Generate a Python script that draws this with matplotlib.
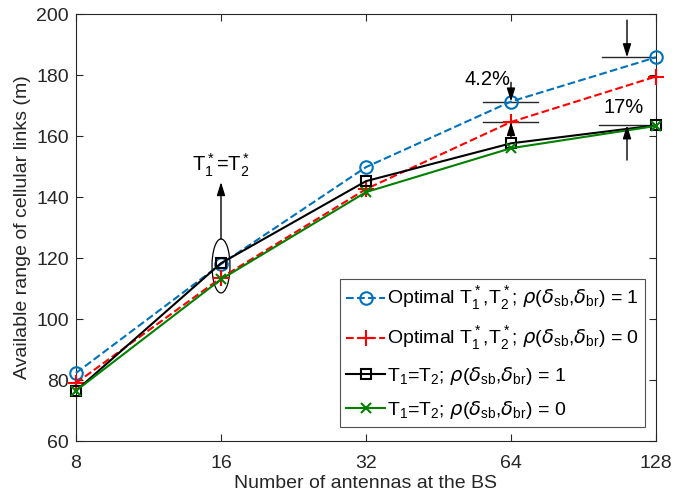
import numpy as np
import matplotlib
matplotlib.use("Agg")
import matplotlib.pyplot as plt
from matplotlib.patches import Ellipse

plt.rcParams['font.family'] = ['Liberation Sans', 'DejaVu Sans']
plt.rcParams['mathtext.fontset'] = 'custom'
plt.rcParams['mathtext.rm'] = 'Liberation Sans'
plt.rcParams['mathtext.it'] = 'DejaVu Sans:italic'
plt.rcParams['mathtext.bf'] = 'Liberation Sans:bold'

antennas = [8, 16, 32, 64, 128]
opt_rho1 = [82.3, 118.0, 149.8, 171.3, 185.8]
opt_rho0 = [79.0, 113.5, 142.6, 164.6, 179.5]
eq_rho1 = [76.5, 118.3, 145.2, 157.6, 163.5]
eq_rho0 = [76.5, 113.0, 141.6, 156.0, 163.3]
yticks = [60, 80, 100, 120, 140, 160, 180, 200]

labels = [
    r'Optimal T$_1^*$,T$_2^*$; $\rho$($\delta_{\mathrm{sb}}$,$\delta_{\mathrm{br}}$) = 1',
    r'Optimal T$_1^*$,T$_2^*$; $\rho$($\delta_{\mathrm{sb}}$,$\delta_{\mathrm{br}}$) = 0',
    r'T$_1$=T$_2$; $\rho$($\delta_{\mathrm{sb}}$,$\delta_{\mathrm{br}}$) = 1',
    r'T$_1$=T$_2$; $\rho$($\delta_{\mathrm{sb}}$,$\delta_{\mathrm{br}}$) = 0',
]

x = np.log2(antennas)

fig = plt.figure(figsize=(6.75, 4.97), dpi=100)
ax = fig.add_axes([76/675, 1-441/497, 580/675, 427/497])

blue = '#0072BD'
ax.plot(x, opt_rho1, '--', color=blue, lw=1.5, marker='o', ms=9, mfc='none', mew=1.5, label=labels[0], clip_on=False, zorder=3)
ax.plot(x, opt_rho0, '--', color='red', lw=1.5, marker='+', ms=11, mew=1.5, label=labels[1], clip_on=False, zorder=3)
ax.plot(x, eq_rho1, '-', color='black', lw=1.5, marker='s', ms=7, mfc='none', mew=1.5, label=labels[2], clip_on=False, zorder=3)
ax.plot(x, eq_rho0, '-', color='#008000', lw=1.5, marker='x', ms=7, mew=1.5, label=labels[3], clip_on=False, zorder=3)

ax.set_xlim(x[0], x[-1])
ax.set_ylim(60, 200)
ax.set_xticks(x)
ax.set_xticklabels([str(a) for a in antennas])
ax.set_yticks(yticks)
for s in ax.spines.values():
    s.set_color('#262626')
    s.set_linewidth(0.8)
ax.tick_params(direction='in', length=5, width=0.8, colors='#262626', labelsize=14,
               top=True, right=True, labeltop=False, labelright=False, pad=5)
ax.tick_params(axis='x', pad=10)
ax.set_xlabel('Number of antennas at the BS', fontsize=14, color='#262626', labelpad=2)
ax.set_ylabel('Available range of cellular links (m)', fontsize=14, color='#262626', labelpad=4)

# annotations
ann_col = '#262626'
ap = dict(arrowstyle='-|>,head_length=0.8,head_width=0.25', color='black', lw=1.0, shrinkA=0, shrinkB=0)
# ellipse at 16
ax.add_patch(Ellipse((4.0, 117.4), 0.124, 17.7, fill=False, ec='black', lw=0.9))
ax.annotate('', xy=(4.0, 144.9), xytext=(4.0, 126.2), arrowprops=ap)
ax.text(4.0, 150.4, r'T$_1^*$=T$_2^*$', ha='center', va='center', fontsize=14.5, color='black')

# at 64
ax.plot([5.807, 6.186], [171.3, 171.3], color=ann_col, lw=1.0)
ax.plot([5.807, 6.186], [164.6, 164.6], color=ann_col, lw=1.0)
ax.annotate('', xy=(6.0, 171.3), xytext=(6.0, 177.6), arrowprops=ap)
ax.annotate('', xy=(6.0, 164.6), xytext=(6.0, 159.3), arrowprops=ap)
ax.text(5.835, 178.4, '4.2%', ha='center', va='center', fontsize=14.5, color='black')

# at 128
ax.plot([6.628, 7.0], [185.8, 185.8], color=ann_col, lw=1.0)
ax.plot([6.607, 7.0], [163.5, 163.5], color=ann_col, lw=1.0)
ax.annotate('', xy=(6.8, 185.8), xytext=(6.8, 198.0), arrowprops=ap)
ax.annotate('', xy=(6.8, 163.5), xytext=(6.8, 152.1), arrowprops=ap)
ax.text(6.78, 169.4, '17%', ha='center', va='center', fontsize=14.5, color='black')

leg = ax.legend(loc='lower right', bbox_to_anchor=(0.981, 0.033), borderaxespad=0,
                fontsize=14, frameon=True, fancybox=False, edgecolor='#262626',
                handlelength=2.0, handletextpad=0.1, labelspacing=0.62, borderpad=0.3)
leg.get_frame().set_linewidth(0.8)

fig.savefig('out.png', dpi=100)
